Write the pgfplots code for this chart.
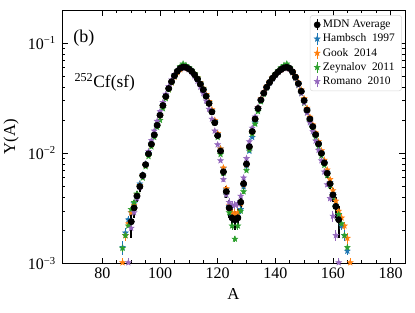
\documentclass[border=0pt]{standalone}
\usepackage{pgfplots}
\usepackage{pgfplotstable}
\pgfplotsset{compat=1.18}
\usepackage{fontspec}
\setmainfont{Liberation Serif}
\definecolor{tabblue}{HTML}{1F77B4}
\definecolor{taborange}{HTML}{FF7F0E}
\definecolor{tabgreen}{HTML}{2CA02C}
\definecolor{tabpurple}{HTML}{9467BD}
\pgfdeclareplotmark{fstar}{%
  \pgfpathmoveto{\pgfqpointpolar{90}{\pgfplotmarksize}}%
  \pgfpathlineto{\pgfqpointpolar{126}{0.42\pgfplotmarksize}}%
  \pgfpathlineto{\pgfqpointpolar{162}{\pgfplotmarksize}}%
  \pgfpathlineto{\pgfqpointpolar{198}{0.42\pgfplotmarksize}}%
  \pgfpathlineto{\pgfqpointpolar{234}{\pgfplotmarksize}}%
  \pgfpathlineto{\pgfqpointpolar{270}{0.42\pgfplotmarksize}}%
  \pgfpathlineto{\pgfqpointpolar{306}{\pgfplotmarksize}}%
  \pgfpathlineto{\pgfqpointpolar{342}{0.42\pgfplotmarksize}}%
  \pgfpathlineto{\pgfqpointpolar{18}{\pgfplotmarksize}}%
  \pgfpathlineto{\pgfqpointpolar{54}{0.42\pgfplotmarksize}}%
  \pgfpathclose\pgfusepathqfillstroke}

\pgfplotstableread{
A Y E
90 0.0024 0.0007
91 0.0032 0.0006
92 0.0041 0.0005
93 0.0050 0.0005
94 0.0063 0.0005
95 0.0079 0.0005
96 0.0099 0.0005
97 0.0121 0.0006
98 0.0147 0.0007
99 0.0180 0.0008
100 0.0222 0.0009
101 0.0272 0.0010
102 0.0328 0.0011
103 0.0388 0.0012
104 0.0447 0.0013
105 0.0505 0.0014
106 0.0555 0.0014
107 0.0592 0.0014
108 0.0608 0.0014
109 0.0604 0.0014
110 0.0585 0.0014
111 0.0556 0.0014
112 0.0517 0.0013
113 0.0472 0.0012
114 0.0425 0.0012
115 0.0378 0.0011
116 0.0330 0.0010
117 0.0284 0.0010
118 0.0238 0.0009
119 0.0190 0.0008
120 0.0145 0.0008
121 0.0105 0.0007
122 0.0068 0.0006
123 0.0045 0.0006
124 0.0032 0.0006
125 0.0026 0.0005
126 0.0025 0.0005
127 0.0026 0.0005
128 0.0036 0.0006
129 0.0053 0.0006
130 0.0080 0.0007
131 0.0115 0.0008
132 0.0158 0.0008
133 0.0205 0.0009
134 0.0255 0.0010
135 0.0305 0.0010
136 0.0352 0.0011
137 0.0398 0.0012
138 0.0440 0.0012
139 0.0480 0.0013
140 0.0517 0.0013
141 0.0550 0.0014
142 0.0578 0.0014
143 0.0598 0.0014
144 0.0606 0.0014
145 0.0590 0.0014
146 0.0548 0.0014
147 0.0492 0.0013
148 0.0430 0.0012
149 0.0366 0.0011
150 0.0302 0.0010
151 0.0247 0.0009
152 0.0205 0.0009
153 0.0175 0.0008
154 0.0148 0.0007
155 0.0122 0.0007
156 0.0100 0.0006
157 0.0082 0.0006
158 0.0066 0.0006
159 0.0053 0.0006
160 0.0042 0.0006
161 0.0033 0.0007
162 0.0025 0.0008
}\mdn

\pgfplotstableread{
A Y E
87 0.0014 0.0002
88 0.0019 0.0002
89 0.0025 0.0002
90 0.0029 0.0002
91 0.0035 0.0002
92 0.0042 0.0002
93 0.0053 0.0002
94 0.0064 0.0003
95 0.0080 0.0003
96 0.0100 0.0003
97 0.0122 0.0004
98 0.0150 0.0004
99 0.0183 0.0005
100 0.0224 0.0005
101 0.0272 0.0006
102 0.0326 0.0006
103 0.0384 0.0007
104 0.0442 0.0007
105 0.0500 0.0008
106 0.0550 0.0008
107 0.0588 0.0008
108 0.0606 0.0008
109 0.0604 0.0008
110 0.0588 0.0008
111 0.0560 0.0008
112 0.0522 0.0008
113 0.0476 0.0007
114 0.0428 0.0007
115 0.0380 0.0007
116 0.0332 0.0006
117 0.0288 0.0006
118 0.0242 0.0005
119 0.0195 0.0005
120 0.0150 0.0004
121 0.0110 0.0004
122 0.0073 0.0003
123 0.0047 0.0003
124 0.0033 0.0003
125 0.0027 0.0003
126 0.0025 0.0003
127 0.0028 0.0003
128 0.0031 0.0003
129 0.0050 0.0003
130 0.0077 0.0004
131 0.0105 0.0004
132 0.0140 0.0005
133 0.0190 0.0005
134 0.0250 0.0006
135 0.0300 0.0006
136 0.0350 0.0007
137 0.0396 0.0007
138 0.0438 0.0007
139 0.0478 0.0008
140 0.0516 0.0008
141 0.0550 0.0008
142 0.0578 0.0008
143 0.0598 0.0008
144 0.0606 0.0008
145 0.0592 0.0008
146 0.0552 0.0008
147 0.0495 0.0007
148 0.0432 0.0007
149 0.0368 0.0007
150 0.0305 0.0006
151 0.0250 0.0006
152 0.0207 0.0005
153 0.0176 0.0005
154 0.0149 0.0004
155 0.0123 0.0004
156 0.0101 0.0003
157 0.0083 0.0003
158 0.0067 0.0003
159 0.0054 0.0003
160 0.0043 0.0003
161 0.0034 0.0002
162 0.0028 0.0002
163 0.0022 0.0002
164 0.0018 0.0002
165 0.0013 0.0001
}\hambsch

\pgfplotstableread{
A Y E
87 0.00102 0.0001
88 0.0018 0.0002
89 0.0023 0.0002
90 0.0029 0.0002
91 0.0034 0.0002
92 0.0042 0.0002
93 0.0051 0.0002
94 0.0063 0.0003
95 0.0079 0.0003
96 0.0098 0.0003
97 0.0120 0.0004
98 0.0147 0.0004
99 0.0181 0.0005
100 0.0221 0.0005
101 0.0268 0.0006
102 0.0322 0.0006
103 0.0380 0.0007
104 0.0437 0.0007
105 0.0493 0.0008
106 0.0541 0.0008
107 0.0576 0.0008
108 0.0594 0.0008
109 0.0596 0.0008
110 0.0584 0.0008
111 0.0560 0.0008
112 0.0526 0.0008
113 0.0484 0.0007
114 0.0438 0.0007
115 0.0391 0.0007
116 0.0343 0.0006
117 0.0296 0.0006
118 0.0250 0.0005
119 0.0200 0.0005
120 0.0152 0.0004
121 0.0110 0.0004
122 0.0074 0.0003
123 0.0048 0.0003
124 0.0034 0.0003
125 0.0029 0.0003
126 0.0028 0.0003
127 0.0029 0.0003
128 0.0035 0.0003
129 0.0052 0.0003
130 0.0079 0.0004
131 0.0112 0.0004
132 0.0155 0.0005
133 0.0205 0.0005
134 0.0260 0.0006
135 0.0312 0.0006
136 0.0360 0.0007
137 0.0405 0.0007
138 0.0446 0.0007
139 0.0484 0.0008
140 0.0518 0.0008
141 0.0548 0.0008
142 0.0572 0.0008
143 0.0590 0.0008
144 0.0596 0.0008
145 0.0586 0.0008
146 0.0552 0.0008
147 0.0500 0.0007
148 0.0440 0.0007
149 0.0377 0.0007
150 0.0314 0.0006
151 0.0258 0.0006
152 0.0214 0.0005
153 0.0182 0.0005
154 0.0154 0.0004
155 0.0128 0.0004
156 0.0106 0.0003
157 0.0087 0.0003
158 0.0071 0.0003
159 0.0058 0.0003
160 0.0046 0.0003
161 0.0037 0.0002
162 0.0030 0.0002
163 0.0026 0.0002
164 0.0022 0.0002
165 0.0017 0.0002
166 0.00102 0.0001
}\gook

\pgfplotstableread{
A Y E
87 0.00138 0.0001
88 0.0018 0.0001
89 0.0022 0.0001
90 0.0031 0.0001
91 0.0036 0.0001
92 0.0043 0.0001
93 0.0050 0.0001
94 0.0060 0.0002
95 0.0076 0.0002
96 0.0094 0.0002
97 0.0115 0.0002
98 0.0140 0.0003
99 0.0173 0.0003
100 0.0200 0.0003
101 0.0255 0.0004
102 0.0315 0.0004
103 0.0378 0.0005
104 0.0440 0.0005
105 0.0505 0.0005
106 0.0565 0.0006
107 0.0615 0.0006
108 0.0650 0.0006
109 0.0630 0.0006
110 0.0600 0.0006
111 0.0570 0.0006
112 0.0530 0.0005
113 0.0485 0.0005
114 0.0435 0.0005
115 0.0385 0.0005
116 0.0335 0.0004
117 0.0288 0.0004
118 0.0240 0.0004
119 0.0190 0.0003
120 0.0140 0.0003
121 0.0098 0.0003
122 0.0066 0.0002
123 0.0042 0.0002
124 0.0029 0.0002
125 0.0022 0.0002
126 0.00167 0.0001
127 0.0022 0.0002
128 0.0030 0.0002
129 0.0045 0.0002
130 0.0070 0.0002
131 0.0108 0.0003
132 0.0150 0.0003
133 0.0185 0.0003
134 0.0240 0.0004
135 0.0295 0.0004
136 0.0345 0.0004
137 0.0395 0.0005
138 0.0440 0.0005
139 0.0482 0.0005
140 0.0525 0.0005
141 0.0565 0.0006
142 0.0600 0.0006
143 0.0630 0.0006
144 0.0650 0.0006
145 0.0600 0.0006
146 0.0545 0.0005
147 0.0480 0.0005
148 0.0415 0.0005
149 0.0350 0.0004
150 0.0285 0.0004
151 0.0235 0.0004
152 0.0195 0.0003
153 0.0168 0.0003
154 0.0140 0.0003
155 0.0115 0.0003
156 0.0095 0.0002
157 0.0078 0.0002
158 0.0063 0.0002
159 0.0051 0.0002
160 0.0040 0.0002
161 0.0033 0.0001
162 0.0028 0.0001
163 0.0023 0.0001
164 0.0018 0.0001
165 0.0014 0.0001
}\zeynalov

\pgfplotstableread{
A Y E
89 0.00102 0.0001
90 0.0021 0.0002
91 0.0029 0.0002
92 0.0039 0.0002
93 0.0049 0.0002
94 0.0062 0.0003
95 0.0080 0.0003
96 0.0104 0.0004
97 0.0131 0.0004
98 0.0160 0.0005
99 0.0196 0.0005
100 0.0240 0.0006
101 0.0290 0.0006
102 0.0345 0.0007
103 0.0405 0.0007
104 0.0465 0.0008
105 0.0518 0.0008
106 0.0560 0.0008
107 0.0590 0.0008
108 0.0600 0.0008
109 0.0595 0.0008
110 0.0575 0.0008
111 0.0543 0.0008
112 0.0500 0.0007
113 0.0452 0.0007
114 0.0400 0.0007
115 0.0350 0.0006
116 0.0300 0.0006
117 0.0252 0.0005
118 0.0205 0.0005
119 0.0160 0.0004
120 0.0120 0.0004
121 0.0086 0.0003
122 0.0058 0.0003
123 0.0042 0.0003
124 0.0036 0.0003
125 0.0034 0.0003
126 0.0034 0.0003
127 0.0035 0.0003
128 0.0041 0.0003
129 0.0060 0.0003
130 0.0090 0.0004
131 0.0128 0.0004
132 0.0170 0.0005
133 0.0215 0.0005
134 0.0262 0.0006
135 0.0310 0.0006
136 0.0355 0.0007
137 0.0398 0.0007
138 0.0438 0.0007
139 0.0476 0.0008
140 0.0512 0.0008
141 0.0545 0.0008
142 0.0572 0.0008
143 0.0590 0.0008
144 0.0598 0.0008
145 0.0582 0.0008
146 0.0540 0.0008
147 0.0480 0.0007
148 0.0415 0.0007
149 0.0350 0.0006
150 0.0288 0.0006
151 0.0233 0.0005
152 0.0190 0.0005
153 0.0158 0.0004
154 0.0130 0.0004
155 0.0107 0.0004
156 0.0086 0.0003
157 0.0068 0.0003
158 0.0052 0.0003
159 0.0039 0.0003
160 0.0027 0.0003
161 0.0018 0.0002
162 0.00102 0.0001
}\romano

\begin{document}
\begin{tikzpicture}
\begin{axis}[
  name=ax,
  scale only axis,
  width=257pt, height=190pt,
  ymode=log,
  xmin=66, xmax=185,
  ymin=1e-3, ymax=0.2,
  xtick={80,100,...,180},
  minor x tick num=3,
  ytick={0.001,0.01,0.1},
  yticklabels={10\textsuperscript{−3},10\textsuperscript{−2},10\textsuperscript{−1}},
  tick align=inside,
  major tick length=4.5pt,
  minor tick length=2.5pt,
  every tick/.style={black, line width=0.5pt},
  axis line style={line width=0.7pt},
  /pgf/number format/assume math mode=true,
  ticklabel style={font=\fontsize{12}{14}\selectfont},
  yticklabel style={xshift=-1pt},
  xlabel={A}, ylabel={Y(A)},
  label style={font=\fontsize{12.5}{14}\selectfont},
  xlabel style={yshift=0pt},
  ylabel style={yshift=0pt},
  legend cell align=left,
  legend style={at={(0.991,0.98)}, anchor=north east, draw=black!15,
    rounded corners=2pt, font=\fontsize{8.6}{10}\selectfont,
    inner xsep=3pt, inner ysep=1.5pt, row sep=-0.8pt,
    /tikz/every even column/.append style={column sep=2pt}},
  legend image code/.code={
    \draw[#1,mark=none,line width=1pt] (0.3cm,-0.15cm) -- (0.3cm,0.15cm);
    \draw[#1] plot coordinates {(0.3cm,0cm)};
  },
  clip=true,
]
\addplot[only marks, mark=*, mark size=2.3pt, black,
  error bars/.cd, y dir=both, y explicit, error mark=none,
  error bar style={line width=1.4pt, black}]
  table[x=A, y=Y, y error=E] {\mdn};
\addlegendentry{MDN Average}
\addplot[only marks, mark=fstar, mark size=2.2pt, tabblue,
  error bars/.cd, y dir=both, y explicit, error mark=none,
  error bar style={line width=0.7pt, tabblue}]
  table[x=A, y=Y, y error=E] {\hambsch};
\addlegendentry{Hambsch\enspace 1997}
\addplot[only marks, mark=fstar, mark size=2.2pt, taborange,
  error bars/.cd, y dir=both, y explicit, error mark=none,
  error bar style={line width=0.7pt, taborange}]
  table[x=A, y=Y, y error=E] {\gook};
\addlegendentry{Gook\enspace 2014}
\addplot[only marks, mark=fstar, mark size=2.2pt, tabgreen,
  error bars/.cd, y dir=both, y explicit, error mark=none,
  error bar style={line width=0.7pt, tabgreen}]
  table[x=A, y=Y, y error=E] {\zeynalov};
\addlegendentry{Zeynalov\enspace 2011}
\addplot[only marks, mark=fstar, mark size=2.2pt, tabpurple,
  error bars/.cd, y dir=both, y explicit, error mark=none,
  error bar style={line width=0.7pt, tabpurple}]
  table[x=A, y=Y, y error=E] {\romano};
\addlegendentry{Romano\enspace 2010}
\addplot[forget plot, only marks, mark=*, mark size=2.3pt, black,
  error bars/.cd, y dir=both, y explicit, error mark=none,
  error bar style={line width=1.4pt, black}]
  table[x=A, y=Y, y error=E] {\mdn};
\node[font=\fontsize{13.5}{15}\selectfont] at (axis cs:73.6,0.11) {(b)};
\node[font=\fontsize{13}{15}\selectfont] at (axis cs:80.8,0.044) {\textsuperscript{252}Cf(sf)};
\end{axis}
\pgfresetboundingbox
\path ([xshift=-46.5pt,yshift=-37pt]ax.south west) rectangle ([xshift=7.5pt,yshift=7.5pt]ax.north east);
\end{tikzpicture}
\end{document}
